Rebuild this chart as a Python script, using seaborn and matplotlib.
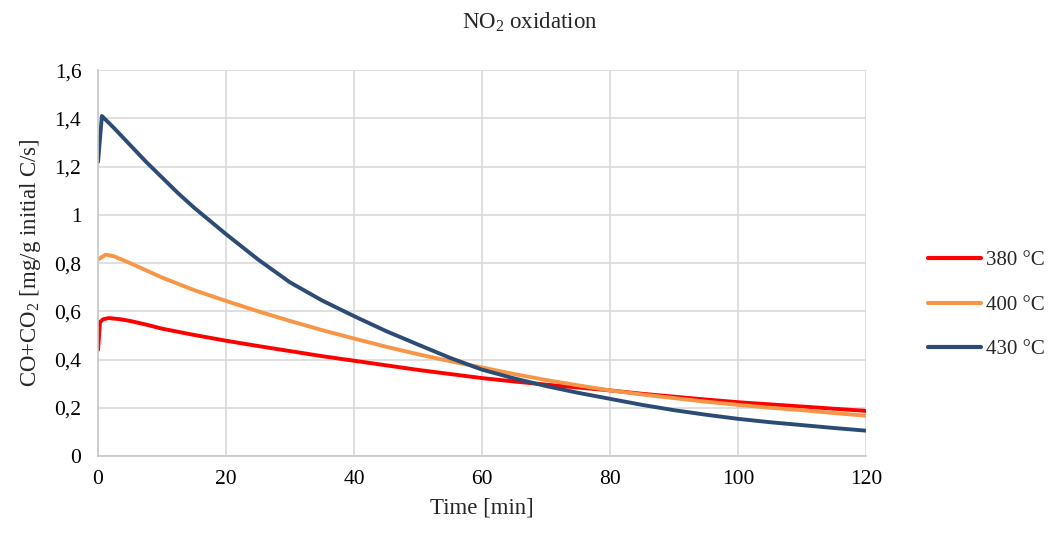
import matplotlib
matplotlib.use("Agg")
import matplotlib.pyplot as plt
import seaborn as sns
import pandas as pd

# ---- data ----
series_names = ["380 °C", "400 °C", "430 °C"]

t_380 = [0, 0.3, 0.8, 1.7, 3.5, 5, 7.5, 10, 15, 20, 25, 30, 35, 40, 45, 50, 55,
         60, 65, 70, 75, 80, 85, 90, 95, 100, 105, 110, 115, 120]
v_380 = [0.44, 0.555, 0.567, 0.572, 0.567, 0.56, 0.545, 0.528, 0.502, 0.478,
         0.456, 0.435, 0.414, 0.395, 0.376, 0.357, 0.34, 0.323, 0.309, 0.296,
         0.284, 0.272, 0.258, 0.246, 0.234, 0.223, 0.214, 0.205, 0.196, 0.187]

t_400 = [0, 1.2, 2.5, 5, 7.5, 10, 15, 20, 25, 30, 35, 40, 45, 50, 55, 60, 65,
         70, 75, 80, 85, 90, 95, 100, 105, 110, 115, 120]
v_400 = [0.815, 0.835, 0.828, 0.80, 0.77, 0.74, 0.688, 0.643, 0.60, 0.56,
         0.522, 0.487, 0.453, 0.422, 0.393, 0.367, 0.34, 0.315, 0.293, 0.272,
         0.255, 0.24, 0.225, 0.212, 0.20, 0.19, 0.178, 0.167]

t_430 = [0, 0.6, 2.5, 5, 7.5, 10, 12.5, 15, 17.5, 20, 25, 30, 35, 40, 45, 50,
         55, 60, 65, 70, 75, 80, 85, 90, 95, 100, 105, 110, 115, 120]
v_430 = [1.22, 1.41, 1.36, 1.29, 1.22, 1.155, 1.09, 1.03, 0.975, 0.92, 0.815,
         0.72, 0.645, 0.58, 0.518, 0.462, 0.407, 0.358, 0.322, 0.29, 0.262,
         0.237, 0.212, 0.19, 0.171, 0.154, 0.14, 0.128, 0.116, 0.105]

x_ticks = [0, 20, 40, 60, 80, 100, 120]
y_ticks = [0, 0.2, 0.4, 0.6, 0.8, 1.0, 1.2, 1.4, 1.6]
y_tick_labels = ["0", "0,2", "0,4", "0,6", "0,8", "1", "1,2", "1,4", "1,6"]

title = "NO$_2$ oxidation"
x_label = "Time [min]"
y_label = "CO+CO$_2$ [mg/g initial C/s]"

colors = ["#FF0000", "#F79646", "#2C4C76"]

# ---- build long-form table ----
frames = []
for name, t, v in zip(series_names, [t_380, t_400, t_430], [v_380, v_400, v_430]):
    frames.append(pd.DataFrame({"Time": t, "Value": v, "Series": name}))
df = pd.concat(frames, ignore_index=True)

sns.set_theme(style="white")
plt.rcParams["font.family"] = ["Liberation Serif", "DejaVu Serif"]
plt.rcParams["mathtext.default"] = "regular"

fig = plt.figure(figsize=(10.6, 5.4), dpi=100)
ax = fig.add_axes([0.0925, 0.1556, 0.7245, 0.7144])

sns.lineplot(data=df, x="Time", y="Value", hue="Series", hue_order=series_names,
             palette=colors, linewidth=2.8, ax=ax, sort=False)
for ln in ax.get_lines():
    ln.set_solid_joinstyle("round")
    ln.set_solid_capstyle("round")

ax.set_xlim(0, 120)
ax.set_ylim(0, 1.6)
ax.set_xticks(x_ticks)
ax.set_xticklabels([str(x) for x in x_ticks])
ax.set_yticks(y_ticks)
ax.set_yticklabels(y_tick_labels)
ax.tick_params(axis="both", length=0, labelsize=15.5, colors="black")
ax.tick_params(axis="x", pad=10)
ax.tick_params(axis="y", pad=12)

ax.grid(True, color="#D9D9D9", linewidth=1.2)
ax.set_axisbelow(True)
for s in ["top", "right"]:
    ax.spines[s].set_visible(False)
for s in ["left", "bottom"]:
    ax.spines[s].set_color("#C8C8C8")
    ax.spines[s].set_linewidth(1.2)

ax.set_xlabel(x_label, fontsize=16.5, labelpad=6)
ax.set_ylabel(y_label, fontsize=16.5, labelpad=8)
fig.text(0.5, 0.958, title, ha="center", va="center", fontsize=16.5)

leg = ax.legend(loc="center left", bbox_to_anchor=(0.875, 0.435),
                bbox_transform=fig.transFigure, frameon=False, fontsize=15,
                handlelength=2.55, handletextpad=0.25, labelspacing=1.2,
                borderpad=0, borderaxespad=0)
for line in leg.get_lines():
    line.set_linewidth(3)

fig.savefig("out.png", dpi=100)
